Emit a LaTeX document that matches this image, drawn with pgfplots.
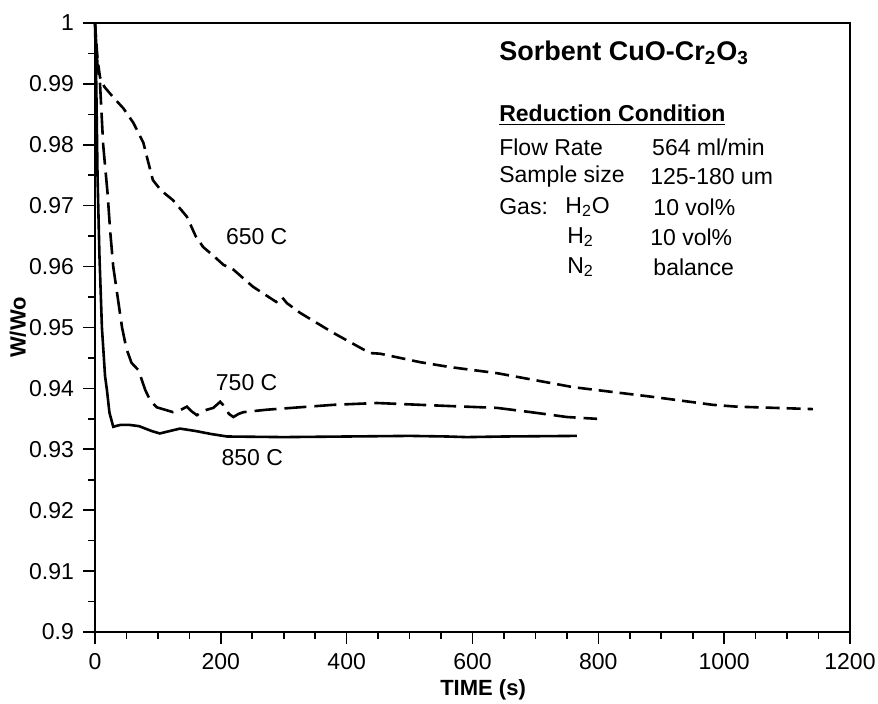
\documentclass[border=0pt]{standalone}
\usepackage{fontspec}
\setmainfont{Liberation Sans}
\usepackage{pgfplots}
\pgfplotsset{compat=1.18}
\newcommand{\tlfont}{\fontsize{11.5}{13}\selectfont}
\begin{document}
\begin{tikzpicture}
\path[use as bounding box] (-47.5pt,-36pt) rectangle (391.5pt,316pt);
\begin{axis}[
  scale only axis,
  width=377.5pt, height=304.5pt,
  xmin=0, xmax=1200, ymin=0.9, ymax=1,
  xtick={0,200,...,1200},
  ytick={0.9,0.91,...,1.001},
  minor x tick num=3,
  minor y tick num=1,
  tick align=outside,
  xtick pos=left, ytick pos=left,
  major tick length=6pt, minor tick length=3.5pt,
  every tick/.style={black, line width=0.8pt},
  axis line style={line width=1pt},
  /pgf/number format/assume math mode=true,
  /pgf/number format/fixed,
  /pgf/number format/precision=2,
  /pgf/number format/1000 sep={},
  xticklabel={\tlfont\pgfmathprintnumber{\tick}},
  yticklabel={\tlfont\pgfmathprintnumber{\tick}},
  xticklabel style={yshift=-1pt},
  yticklabel style={xshift=-1pt},
  xlabel={\textbf{TIME (s)}},
  ylabel={\textbf{W/Wo}},
  xlabel style={font=\fontsize{11}{13}\selectfont, at={(axis description cs:0.514,0)}, anchor=center, yshift=-29pt},
  ylabel style={font=\fontsize{11}{13}\selectfont, at={(axis description cs:-0.102,0.5)}, anchor=center},
  clip=false,
]
% 650 C
\addplot[black, line width=1.3pt, dash pattern=on 7pt off 3.5pt] coordinates {
(0,1) (4,0.994) (8,0.9911) (15,0.9895) (29,0.9878) (45,0.986) (61,0.9836) (77,0.9803) (85,0.977) (92,0.9742) (105,0.9725) (124,0.9709) (146,0.9682) (160,0.965) (172,0.9632) (188,0.9618) (204,0.9603) (220,0.9595) (251,0.9567) (288,0.9542) (297,0.955) (305,0.9540) (326,0.9524) (379,0.9491) (437,0.9458) (453,0.9457) (517,0.9443) (564,0.9435) (639,0.9425) (760,0.9402) (887,0.9386) (982,0.9373) (1020,0.937) (1141,0.9366)
};
% 750 C
\addplot[black, line width=1.3pt, dash pattern=on 11pt off 4pt] coordinates {
(0,1) (4,0.993) (8,0.99) (13,0.98) (20,0.972) (24,0.966) (29,0.96) (36,0.955) (43,0.95) (50,0.9465) (58,0.9442) (69,0.943) (80,0.9397) (88,0.938) (98,0.9369) (124,0.9361) (135,0.9364) (146,0.937) (154,0.9362) (162,0.9356) (170,0.9362) (178,0.9365) (188,0.9368) (199,0.9378) (206,0.937) (213,0.9358) (220,0.9353) (228,0.9358) (236,0.9361) (273,0.9365) (379,0.9373) (448,0.9376) (517,0.9373) (564,0.9371) (639,0.9368) (700,0.936) (750,0.9353) (798,0.935)
};
% 850 C
\addplot[black, line width=1.3pt] coordinates {
(0,1) (2,0.99) (4,0.975) (7,0.962) (11,0.95) (16,0.942) (19,0.9397) (23,0.936) (29,0.9337) (40,0.934) (55,0.934) (70,0.9338) (90,0.933) (103,0.9326) (115,0.9329) (135,0.9334) (160,0.9330) (185,0.9325) (210,0.9321) (300,0.9320) (400,0.9321) (500,0.9322) (560,0.9321) (591,0.9320) (650,0.9321) (766,0.9322)
};
\node[font=\fontsize{11.5}{13}\selectfont] at (axis cs:257,0.9649) {650 C};
\node[font=\fontsize{11.5}{13}\selectfont] at (axis cs:241,0.9409) {750 C};
\node[font=\fontsize{11.5}{13}\selectfont] at (axis cs:250,0.9286) {850 C};
\node[anchor=west, inner sep=0pt, font=\fontsize{13.5}{15}\selectfont\bfseries] at (axis cs:642,0.99507) {Sorbent CuO-Cr\textsubscript{2}O\textsubscript{3}};
\node[anchor=west, inner sep=0pt, font=\fontsize{11.5}{13}\selectfont\bfseries] at (axis cs:642,0.98489) {\underline{Reduction Condition}};
\begin{scope}[every node/.style={anchor=west, inner sep=0pt, font=\fontsize{11.5}{13}\selectfont}]
\node at (axis cs:642,0.97964) {Flow Rate};
\node at (axis cs:885,0.97964) {564 ml/min};
\node at (axis cs:642,0.97471) {Sample size};
\node at (axis cs:882,0.97471) {125-180 um};
\node at (axis cs:642,0.96979) {Gas:};
\node at (axis cs:747,0.96979) {H\textsubscript{2}O};
\node at (axis cs:887,0.96979) {10 vol\%};
\node at (axis cs:750,0.96486) {H\textsubscript{2}};
\node at (axis cs:882,0.96486) {10 vol\%};
\node at (axis cs:750,0.95993) {N\textsubscript{2}};
\node at (axis cs:887,0.95993) {balance};
\end{scope}
\end{axis}
\end{tikzpicture}
\end{document}
